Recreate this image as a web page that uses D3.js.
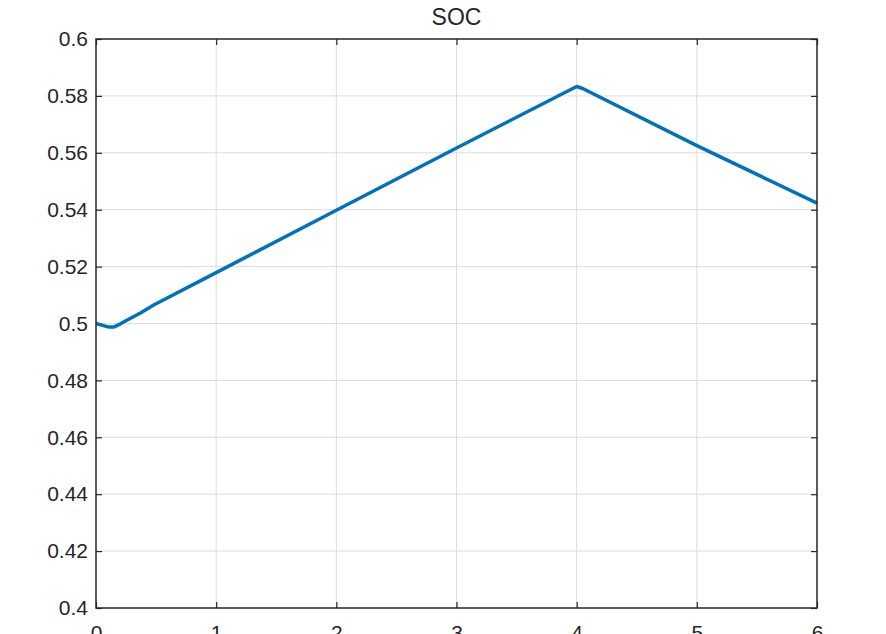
<!DOCTYPE html>
<meta charset="utf-8">
<style>
  body { margin: 0; background: #fff; }
  text { font-family: "Liberation Sans", Arial, sans-serif; fill: #262626; }
</style>
<body>
<svg width="886" height="634"></svg>
<script src="https://d3js.org/d3.v7.min.js"></script>
<script>

// SOC curve (time, state of charge)
var timeVals = [0, 0.04, 0.1, 0.15, 0.2, 0.26, 0.37, 0.48, 1, 2, 3, 4, 4.05, 5, 6];
var socVals  = [0.5, 0.4995, 0.4988, 0.4988, 0.4998, 0.5012, 0.5037, 0.5065, 0.5179, 0.5398, 0.5617, 0.5833, 0.5826, 0.5625, 0.5423];

var xTicks = [0, 1, 2, 3, 4, 5, 6];
var yTicks = [0.4, 0.42, 0.44, 0.46, 0.48, 0.5, 0.52, 0.54, 0.56, 0.58, 0.6];
var titleText = "SOC";

// note: "top" is taken by window.top, so use plot* names
var svg = d3.select("svg"),
    plotL = 96, plotR = 817, plotT = 39, plotB = 608;

var x = d3.scaleLinear().domain([0, 6]).range([plotL, plotR]);
var y = d3.scaleLinear().domain([0.4, 0.6]).range([plotB, plotT]);

// grid
svg.append("g").selectAll("line").data(xTicks.slice(1, -1)).enter().append("line")
    .attr("x1", d => x(d)).attr("x2", d => x(d))
    .attr("y1", plotT).attr("y2", plotB)
    .attr("stroke", "#dcdcdc").attr("stroke-width", 1);
svg.append("g").selectAll("line").data(yTicks.slice(1, -1)).enter().append("line")
    .attr("x1", plotL).attr("x2", plotR)
    .attr("y1", d => y(d)).attr("y2", d => y(d))
    .attr("stroke", "#dcdcdc").attr("stroke-width", 1);

// axes (ticks point inwards like matlab)
function styleAxis(g) {
  g.select(".domain").remove();
  g.selectAll("line").attr("stroke", "#262626").attr("stroke-width", 1.2);
  g.selectAll("text").attr("fill", "#262626").style("font-size", "21px");
}

svg.append("g").attr("transform", "translate(0," + plotB + ")")
    .call(d3.axisBottom(x).tickValues(xTicks).tickSizeInner(-6).tickSizeOuter(0).tickPadding(17).tickFormat(d3.format("d")))
    .call(styleAxis);
svg.append("g").attr("transform", "translate(0," + plotT + ")")
    .call(d3.axisTop(x).tickValues(xTicks).tickSizeInner(-6).tickSizeOuter(0).tickFormat(""))
    .call(styleAxis);
svg.append("g").attr("transform", "translate(" + plotL + ",0)")
    .call(d3.axisLeft(y).tickValues(yTicks).tickSizeInner(-6).tickSizeOuter(0).tickPadding(8).tickFormat(d => +d.toFixed(2) + ""))
    .call(styleAxis);
svg.append("g").attr("transform", "translate(" + plotR + ",0)")
    .call(d3.axisRight(y).tickValues(yTicks).tickSizeInner(-6).tickSizeOuter(0).tickFormat(""))
    .call(styleAxis);

// data line
var line = d3.line().x((d, i) => x(timeVals[i])).y(d => y(d));
svg.append("path").datum(socVals)
    .attr("d", line)
    .attr("fill", "none")
    .attr("stroke", "#0072bd")
    .attr("stroke-width", 3.5)
    .attr("stroke-linejoin", "round");

// box
svg.append("rect")
    .attr("x", plotL).attr("y", plotT)
    .attr("width", plotR - plotL).attr("height", plotB - plotT)
    .attr("fill", "none").attr("stroke", "#262626").attr("stroke-width", 1.5);

svg.append("text")
    .attr("x", (plotL + plotR) / 2).attr("y", 25)
    .attr("text-anchor", "middle")
    .style("font-size", "23px")
    .text(titleText);

</script>
</body>
